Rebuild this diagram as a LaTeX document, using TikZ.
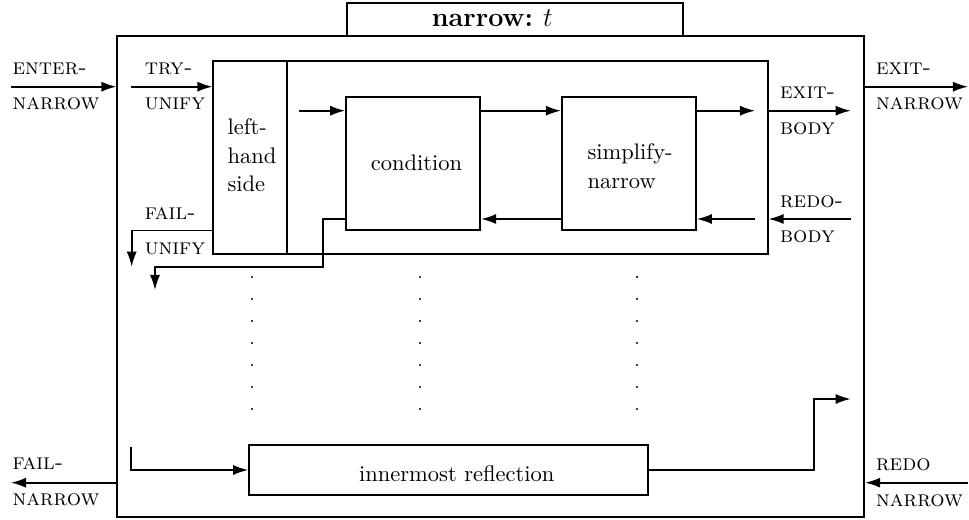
\documentclass[tikz,border=0pt]{standalone}
\usetikzlibrary{arrows.meta,fit}
\begin{document}
\begin{tikzpicture}[x=0.4444pt, y=-0.4444pt, line width=0.75pt,
  arr/.style={-{Latex[length=6.7pt,width=4.5pt]}},
  boxnode/.style={draw, inner sep=0pt},
  lbl/.style={anchor=base west, inner sep=0pt, font=\scshape},
  txt/.style={anchor=base west, inner sep=0pt},
  dotmark/.style={fill=black}]
\useasboundingbox (0,0) rectangle (969,520);
% boxes
\node[boxnode, fit={(117.3,36.3) (864.3,517)}] (outer) {};
\node[boxnode, fit={(347,2.7) (683,36.3)}] (titlebox) {};
\node[boxnode, fit={(213.3,60.7) (767.7,254.3)}] (body) {};
\node[boxnode, fit={(213.3,60.7) (286.7,254.3)}] (lhs) {};
\node[boxnode, fit={(346,96.7) (480.3,230)}] (cond) {};
\node[boxnode, fit={(561.7,96.7) (696,230)}] (simp) {};
\node[boxnode, fit={(249,445) (648.3,495)}] (inner) {};
% texts in boxes
\node[txt, font=\large\bfseries] (ttl) at (431,26.7) {narrow:~$t$};
\node[txt] (lhsA) at (226.7,135) {left-};
\node[txt] (lhsB) at (226.7,163.3) {hand};
\node[txt] (lhsC) at (226.7,191.7) {side};
\node[anchor=base, inner sep=0pt] (condt) at (416.5,171) {condition};
\node[txt] (simpA) at (586.7,159.5) {simplify-};
\node[txt] (simpB) at (586.7,188.3) {narrow};
\node[anchor=base, inner sep=0pt] (innert) at (456.7,481.7) {innermost reflection};
% port labels
\node[lbl] (l1) at (11.7,74.5) {enter-};
\node[lbl] (l2) at (11.7,110) {narrow};
\node[lbl] (l3) at (144,74.5) {try-};
\node[lbl] (l4) at (144,110) {unify};
\node[lbl] (l5) at (144,220) {fail-};
\node[lbl] (l6) at (144,255) {unify};
\node[lbl] (l7) at (779.3,99) {exit-};
\node[lbl] (l8) at (779.3,135) {body};
\node[lbl] (l9) at (779.3,208) {redo-};
\node[lbl] (l10) at (779.3,243) {body};
\node[lbl] (l11) at (875.3,74.5) {exit-};
\node[lbl] (l12) at (875.3,110) {narrow};
\node[lbl] (l13) at (11.7,469) {fail-};
\node[lbl] (l14) at (11.7,505.7) {narrow};
\node[lbl] (l15) at (875.3,470) {redo};
\node[lbl] (l16) at (875.3,506.7) {narrow};
% coordinates for free ends
\coordinate (enterS) at (11,86.7);
\coordinate (tryS) at (130.7,86.7);
\coordinate (lhsOut) at (299,110.7);
\coordinate (simpOut) at (755,110.7);
\coordinate (exitBodyE) at (850.7,110.7);
\coordinate (exitNarE) at (968,86.7);
\coordinate (redoBodyS) at (850.7,219);
\coordinate (redoInS) at (755,219);
\coordinate (failUS) at (213.3,230.5);
\coordinate (failUE) at (131.7,266.7);
\coordinate (failCA) at (323,219);
\coordinate (failCB) at (155,266.7);
\coordinate (failCE) at (155,290);
\coordinate (innS) at (130.7,446.7);
\coordinate (innA) at (814.3,470);
\coordinate (innE) at (850.7,399);
\coordinate (failNarE) at (11,482.7);
\coordinate (redoNarS) at (968,482.7);
% connectors
\draw[arr] (enterS) -- (enterS -| outer.west);
\draw[arr] (tryS) -- (tryS -| body.west);
\draw[arr] (lhsOut) -- (lhsOut -| cond.west);
\draw[arr] (lhsOut -| cond.east) -- (lhsOut -| simp.west);
\draw[arr] (lhsOut -| simp.east) -- (simpOut);
\draw[arr] (exitBodyE -| body.east) -- (exitBodyE);
\draw[arr] (exitNarE -| outer.east) -- (exitNarE);
\draw[arr] (redoBodyS) -- (redoBodyS -| body.east);
\draw[arr] (redoInS) -- (redoInS -| simp.east);
\draw[arr] (redoInS -| simp.west) -- (redoInS -| cond.east);
\draw[arr] (failUS -| lhs.west) -- (failUS -| failUE) -- (failUE);
\draw[arr] (failCA -| cond.west) -- (failCA) -- (failCA |- failCB) -- (failCB) -- (failCE);
\draw[arr] (innS) -- (innS |- innA) -- (innA -| inner.west);
\draw[arr] (innA -| inner.east) -- (innA) -- (innA |- innE) -- (innE);
\draw[arr] (failNarE -| outer.west) -- (failNarE);
\draw[arr] (redoNarS) -- (redoNarS -| outer.east);
% dots
\foreach \xx in {252,420,637}
  \foreach \yy in {277,299,321,343,365,387,409}
    \fill[dotmark] (\xx,\yy) circle (0.55pt);
\end{tikzpicture}
\end{document}
